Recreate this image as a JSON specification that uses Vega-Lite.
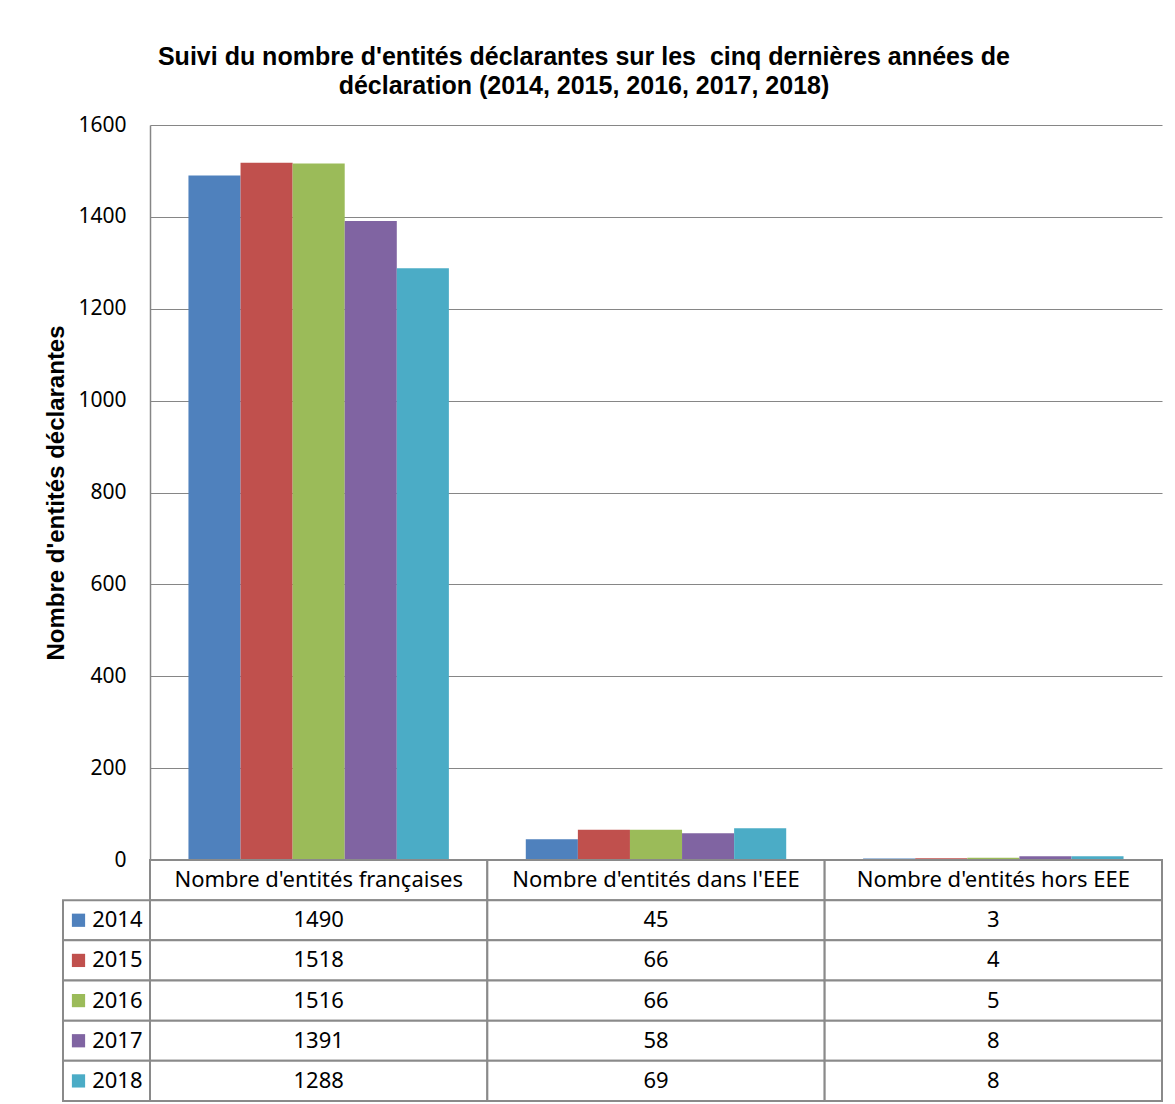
{
  "$schema": "https://vega.github.io/schema/vega-lite/v6.json",
  "background": "white",
  "padding": {"left": 44, "top": 45, "right": 14, "bottom": 3},
  "title": {
    "text": ["Suivi du nombre d'entités déclarantes sur les \u00a0cinq dernières années de", "déclaration (2014, 2015, 2016, 2017, 2018)"],
    "font": "Liberation Sans",
    "fontSize": 25,
    "fontWeight": "bold",
    "color": "#000000",
    "anchor": "middle",
    "lineHeight": 29,
    "offset": 15,
    "dx": -20
  },
  "datasets": {
    "decl": [
      {"annee": "2014", "categorie": "Nombre d'entités françaises", "valeur": 1490},
      {"annee": "2015", "categorie": "Nombre d'entités françaises", "valeur": 1518},
      {"annee": "2016", "categorie": "Nombre d'entités françaises", "valeur": 1516},
      {"annee": "2017", "categorie": "Nombre d'entités françaises", "valeur": 1391},
      {"annee": "2018", "categorie": "Nombre d'entités françaises", "valeur": 1288},
      {"annee": "2014", "categorie": "Nombre d'entités dans l'EEE", "valeur": 45},
      {"annee": "2015", "categorie": "Nombre d'entités dans l'EEE", "valeur": 66},
      {"annee": "2016", "categorie": "Nombre d'entités dans l'EEE", "valeur": 66},
      {"annee": "2017", "categorie": "Nombre d'entités dans l'EEE", "valeur": 58},
      {"annee": "2018", "categorie": "Nombre d'entités dans l'EEE", "valeur": 69},
      {"annee": "2014", "categorie": "Nombre d'entités hors EEE", "valeur": 3},
      {"annee": "2015", "categorie": "Nombre d'entités hors EEE", "valeur": 4},
      {"annee": "2016", "categorie": "Nombre d'entités hors EEE", "valeur": 5},
      {"annee": "2017", "categorie": "Nombre d'entités hors EEE", "valeur": 8},
      {"annee": "2018", "categorie": "Nombre d'entités hors EEE", "valeur": 8}
    ]
  },
  "columns": 2,
  "spacing": 0,
  "bounds": "flush",
  "resolve": {"scale": {"x": "independent", "y": "independent", "color": "shared"}},
  "concat": [
    {
      "width": 87,
      "height": 735,
      "data": {"values": []},
      "mark": "point",
      "encoding": {}
    },
    {
      "width": 1012,
      "height": 735,
      "data": {"name": "decl"},
      "mark": {"type": "bar"},
      "encoding": {
        "x": {
          "field": "categorie",
          "type": "nominal",
          "sort": null,
          "scale": {"paddingInner": 0.228, "paddingOuter": 0.114},
          "axis": null
        },
        "xOffset": {
          "field": "annee",
          "type": "nominal",
          "scale": {"paddingInner": 0, "paddingOuter": 0}
        },
        "y": {
          "field": "valeur",
          "type": "quantitative",
          "scale": {"domain": [0, 1600], "nice": false, "zero": true},
          "axis": {
            "values": [0, 200, 400, 600, 800, 1000, 1200, 1400, 1600],
            "format": "d",
            "title": "Nombre d'entités déclarantes",
            "titleFont": "Liberation Sans",
            "titleFontSize": 24,
            "titleFontWeight": "bold",
            "titleColor": "#000000",
            "titlePadding": 9,
            "labelFont": "Noto Sans",
            "labelFontSize": 21,
            "labelColor": "#000000",
            "labelPadding": 24,
            "ticks": false,
            "grid": true,
            "gridColor": "#868686",
            "gridWidth": 1.2,
            "domainColor": "#868686",
            "domainWidth": 1.5
          }
        },
        "color": {
          "field": "annee",
          "type": "nominal",
          "scale": {"domain": ["2014", "2015", "2016", "2017", "2018"], "range": ["#4F81BD", "#C0504D", "#9BBB59", "#8064A2", "#4BACC6"]},
          "legend": null
        }
      }
    },
    {
      "width": 87,
      "height": 241,
      "data": {"name": "decl"},
      "transform": [
        {"aggregate": [{"op": "count", "as": "n"}], "groupby": ["annee"]}
      ],
      "encoding": {
        "y": {
          "field": "annee",
          "type": "nominal",
          "scale": {"domain": ["en-tête", "2014", "2015", "2016", "2017", "2018"], "paddingInner": 0, "paddingOuter": 0},
          "axis": null
        },
        "x": {
          "datum": "légende",
          "type": "nominal",
          "scale": {"paddingInner": 0, "paddingOuter": 0},
          "axis": null
        }
      },
      "layer": [
        {
          "mark": {"type": "rect", "fill": "white", "stroke": "#8a8a8a", "strokeWidth": 2}
        },
        {
          "mark": {"type": "point", "shape": "square", "filled": true, "opacity": 1, "size": 175, "xOffset": -28},
          "encoding": {
            "color": {"field": "annee", "type": "nominal", "legend": null}
          }
        },
        {
          "mark": {"type": "text", "align": "right", "baseline": "middle", "dx": 36, "font": "Noto Sans", "fontSize": 22, "color": "#000000"},
          "encoding": {"text": {"field": "annee"}}
        }
      ]
    },
    {
      "width": 1012,
      "height": 241,
      "data": {"name": "decl"},
      "encoding": {
        "x": {
          "field": "categorie",
          "type": "nominal",
          "scale": {"domain": ["Nombre d'entités françaises", "Nombre d'entités dans l'EEE", "Nombre d'entités hors EEE"], "paddingInner": 0, "paddingOuter": 0},
          "axis": null
        }
      },
      "layer": [
        {
          "transform": [{"aggregate": [{"op": "count", "as": "n"}], "groupby": ["categorie"]}],
          "encoding": {
            "y": {
              "datum": "en-tête",
              "type": "nominal",
              "scale": {"domain": ["en-tête", "2014", "2015", "2016", "2017", "2018"], "paddingInner": 0, "paddingOuter": 0},
              "axis": null
            }
          },
          "layer": [
            {"mark": {"type": "rect", "fill": "white", "stroke": "#8a8a8a", "strokeWidth": 2}},
            {
              "mark": {"type": "text", "baseline": "middle", "font": "Noto Sans", "fontSize": 22, "color": "#000000"},
              "encoding": {"text": {"field": "categorie"}}
            }
          ]
        },
        {
          "encoding": {
            "y": {"field": "annee", "type": "nominal", "axis": null}
          },
          "layer": [
            {"mark": {"type": "rect", "fill": "white", "stroke": "#8a8a8a", "strokeWidth": 2}},
            {
              "mark": {"type": "text", "baseline": "middle", "font": "Noto Sans", "fontSize": 22, "color": "#000000"},
              "encoding": {"text": {"field": "valeur", "type": "quantitative"}}
            }
          ]
        }
      ]
    }
  ],
  "config": {
    "view": {"stroke": null}
  }
}
